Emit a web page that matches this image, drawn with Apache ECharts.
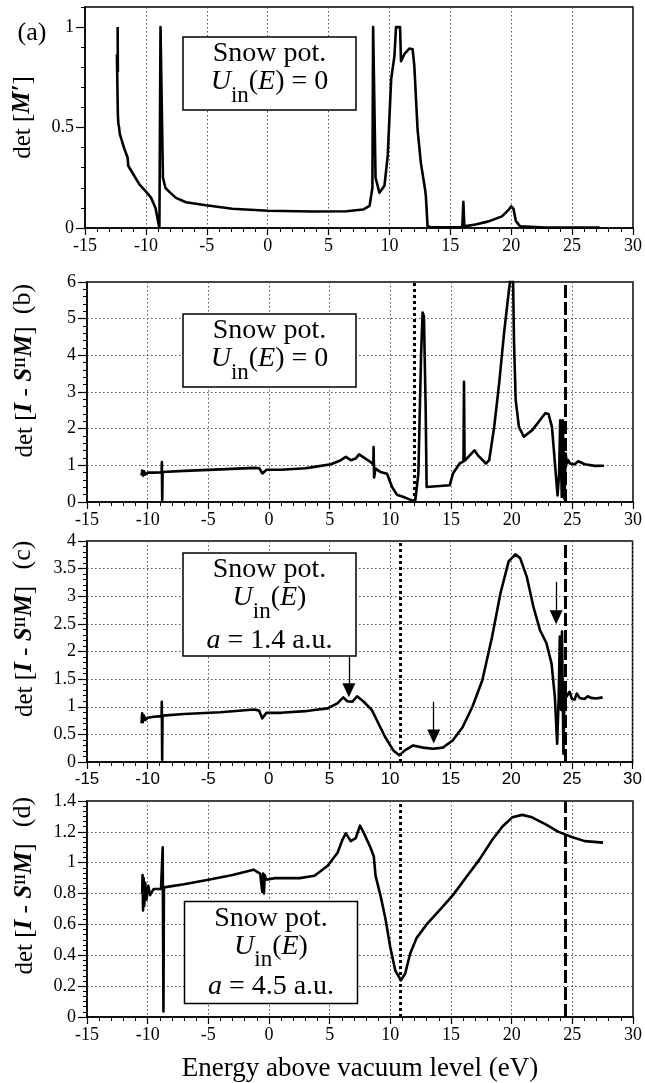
<!DOCTYPE html>
<html><head><meta charset="utf-8">
<script src="https://cdn.jsdelivr.net/npm/echarts@6/dist/echarts.min.js"></script>
<style>html,body{margin:0;padding:0;background:#fff}#c{width:645px;height:1083px}</style>
</head><body><div id="c"></div>
<script>
// ---------- DATA ----------
// Panel (a): det[M'] , Snow pot., U_in(E)=0
const aE = [-12.32,-12.3,-12.38,-12.3,-12.26,-12.2,-12.15,-11.8,-11.5,-11.45,-11.06,-10.52,-9.97,-9.57,-9.21,-9.02,-8.89,-8.8,-8.66,-8.6,-8.4,-8.07,-7.53,-6.71,-5.08,-2.91,0.03,3.75,6.47,7.83,8.37,8.6,8.66,8.8,8.86,9.18,9.59,9.86,10.14,10.41,10.54,10.87,10.95,11.22,11.63,11.9,12.04,12.31,12.58,12.93,12.99,13.13,13.5,15.98,16.05,16.07,16.13,16.15,17.07,18.15,19.24,19.78,20.0,20.19,20.38,20.73,22.77,27.26];
const aV = [1.0,0.78,0.86,0.56,0.52,0.5,0.47,0.40,0.35,0.31,0.27,0.216,0.18,0.15,0.10,0.04,0.0,1.0,1.0,0.25,0.2,0.18,0.15,0.128,0.113,0.096,0.086,0.082,0.083,0.092,0.11,0.2,1.0,1.0,0.25,0.175,0.21,0.36,0.74,0.856,1.0,1.0,0.83,0.865,0.893,0.89,0.81,0.49,0.324,0.19,0.16,0.008,0.003,0.005,0.005,0.13,0.13,0.008,0.017,0.033,0.058,0.09,0.108,0.095,0.035,0.008,0.002,0.002];
// Panel (b): det[I - S^II M], U_in(E)=0
const bE = [-10.5,-10.45,-10.38,-10.3,-10.2,-10.0,-9.5,-8.85,-8.83,-8.8,-8.77,-7,-4,-1.2,-0.8,-0.55,-0.4,-0.2,1,3,3.75,5.11,5.92,6.33,6.74,7.15,7.42,7.83,8.37,8.6,8.62,8.66,8.78,9.18,9.73,10.14,10.54,11.09,11.63,12.04,12.31,12.53,12.66,12.77,12.91,12.99,13.13,14.89,15.16,15.71,16.03,16.07,16.12,16.93,17.2,17.88,18.15,18.56,18.97,19.37,19.78,20.0,20.12,20.19,20.33,20.6,21.0,21.7,22.77,23.04,23.32,23.59,23.78,23.91,24.0,24.13,24.21,24.35,24.45,24.55,24.67,24.8,24.95,25.2,25.49,26.03,26.85,27.6];
const bV = [0.72,0.86,0.72,0.84,0.75,0.8,0.8,0.81,1.09,0.0,0.82,0.85,0.89,0.93,0.92,0.78,0.8,0.88,0.88,0.92,0.957,1.03,1.14,1.23,1.14,1.185,1.30,1.21,1.09,1.02,1.5,0.67,0.91,0.82,0.77,0.41,0.2,0.137,0.064,0.0,0.77,3.97,5.17,5.06,2.6,0.41,0.365,0.456,0.775,1.05,1.11,3.28,1.12,1.41,1.28,1.05,1.14,2.05,3.24,4.6,5.79,6.3,6.0,4.42,2.78,2.05,1.78,1.96,2.42,2.4,2.05,0.957,0.18,0.77,2.23,0.14,2.23,0.09,1.32,1.05,1.14,1.05,1.09,1.03,1.11,1.03,0.985,0.99];
// Panel (c): a = 1.4 a.u.
const cE = [-10.5,-10.45,-10.4,-10.3,-10.2,-10.0,-9.5,-8.85,-8.83,-8.8,-8.77,-7,-4,-1.2,-0.8,-0.55,-0.4,-0.2,1,3,3.75,4.84,5.65,6.14,6.47,6.88,7.28,7.83,8.5,8.91,9.59,10.27,10.76,11.22,11.9,12.72,13.53,14.35,15.16,15.98,16.79,17.61,18.42,19.1,19.78,20.33,20.73,21.28,21.82,22.36,22.9,23.32,23.59,23.78,23.91,24.0,24.1,24.18,24.3,24.4,24.54,24.81,25.0,25.22,25.4,25.63,26.03,26.3,26.58,26.98,27.53];
const cV = [0.7,0.88,0.72,0.84,0.76,0.8,0.82,0.83,1.09,0.04,0.84,0.87,0.9,0.95,0.93,0.79,0.82,0.89,0.89,0.92,0.94,0.97,1.06,1.17,1.1,1.09,1.19,1.09,0.94,0.755,0.453,0.21,0.12,0.21,0.3,0.26,0.24,0.26,0.39,0.63,1.0,1.48,2.27,3.05,3.63,3.76,3.69,3.35,2.81,2.39,2.15,1.78,1.18,0.33,1.18,2.27,0.94,2.36,0.15,1.42,1.18,1.27,1.14,1.13,1.24,1.16,1.14,1.19,1.16,1.15,1.17];
// Panel (d): a = 4.5 a.u.
const dE = [-10.45,-10.42,-10.38,-10.33,-10.28,-10.2,-10.1,-9.95,-9.8,-9.5,-8.9,-8.8,-8.76,-8.7,-8.66,-7,-5,-3,-1.28,-0.73,-0.55,-0.48,-0.42,-0.35,-0.25,0.5,2.53,3.75,4.84,5.65,6.06,6.33,6.74,7.15,7.5,7.83,8.37,8.64,8.78,9.18,9.59,10.0,10.41,10.87,11.22,11.63,12.17,12.99,14.08,15.16,16.25,17.34,18.42,19.24,20.05,20.87,21.68,22.77,23.86,24.95,26.03,27.53];
const dV = [0.8,0.92,0.69,0.9,0.72,0.87,0.76,0.85,0.79,0.83,0.83,0.83,1.1,0.036,0.84,0.86,0.89,0.92,0.955,0.93,0.81,0.93,0.8,0.92,0.89,0.9,0.9,0.916,0.98,1.065,1.15,1.19,1.14,1.16,1.24,1.19,1.097,1.04,0.916,0.79,0.64,0.45,0.30,0.238,0.28,0.41,0.513,0.6,0.694,0.79,0.906,1.02,1.15,1.235,1.294,1.31,1.294,1.25,1.2,1.167,1.14,1.13];
// reference lines (panels b, c, d)
const dottedE = [12.0, 10.8, 10.85];
const dashedE = [24.4, 24.45, 24.45];
// arrows in panel (c)
const arrowE = [6.6, 13.6, 23.7];
const arrowTop = [1.92, 1.09, 3.26];
const arrowHead = [1.30, 0.46, 2.62];
// axes
const xMin = -15, xMax = 30, xStep = 5;
const yMax = [1.1, 6, 4, 1.4];
const yStep = [0.1, 1, 0.5, 0.2];
const aLabelTicks = [0, 0.5, 1];
const panelTags = ['(a)', '(b)', '(c)', '(d)'];
const boxLine3 = ['', '', '1.4 a.u.', '4.5 a.u.'];

// ---------- CHART ----------
const SERIF = 'Liberation Serif';
const SANS = 'Liberation Sans';
const zip = (e, v) => e.map((x, i) => [x, v[i]]);
const grids = [
  {left: 85, right: 8, top: 7, height: 221},
  {left: 85, right: 8, top: 282, height: 220},
  {left: 85, right: 8, top: 541, height: 221},
  {left: 85, right: 8, top: 801, height: 220}
].map(g => Object.assign(g, {show: true, borderColor: '#000', borderWidth: 1.5}));

const gridLine = {show: true, lineStyle: {color: '#555', width: 1, type: [1.5, 2.5]}};
const axisLineS = {show: true, onZero: false, lineStyle: {color: '#000', width: 1.5}};

const xAxes = grids.map((g, i) => ({
  gridIndex: i, type: 'value', min: xMin, max: xMax, interval: xStep,
  axisLine: axisLineS,
  axisTick: {show: true, length: 7, lineStyle: {color: '#000', width: 1.2}},
  minorTick: {show: true, splitNumber: 5, length: 4, lineStyle: {color: '#000', width: 1}},
  axisLabel: {color: '#000', fontFamily: i === 2 ? SANS : SERIF, fontSize: i === 2 ? 17 : 18, margin: 9},
  splitLine: gridLine,
  name: i === 3 ? 'Energy above vacuum level (eV)' : '',
  nameLocation: 'middle', nameGap: 38,
  nameTextStyle: {color: '#000', fontFamily: SERIF, fontSize: 27}
}));

const nameRich = {
  n: {fontFamily: SERIF, fontSize: 25, color: '#000', lineHeight: 34},
  b: {fontFamily: SERIF, fontSize: 25, fontStyle: 'italic', fontWeight: 'bold', color: '#000', lineHeight: 34},
  sup: {fontFamily: SERIF, fontSize: 14, fontWeight: 'bold', color: '#000', lineHeight: 14, verticalAlign: 'top', padding: [6, 0, 0, 0]}
};
const nameISM = '{n|det [}{b|I}{n| - }{b|S}{sup|II}{b|M}{n|]}';
function yAxisCfg(i) {
  const base = {
    gridIndex: i, type: 'value', min: 0, max: yMax[i], interval: yStep[i],
    axisLine: axisLineS,
    axisTick: {show: true, length: 9, lineStyle: {color: '#000', width: 1.2}},
    minorTick: {show: true, splitNumber: i === 3 ? 6 : 5, length: 4, lineStyle: {color: '#000', width: 1}},
    axisLabel: {color: '#000', fontFamily: SERIF, fontSize: 18, margin: 11},
    splitLine: gridLine,
    name: i === 0 ? '{n|det [}{b|M′}{n|]}' : nameISM,
    nameLocation: 'middle', nameRotate: 90, nameGap: 45,
    nameTextStyle: {rich: nameRich}
  };
  if (i === 0) {
    base.minorTick = {show: false};
    base.axisLabel.customValues = aLabelTicks;
    base.axisTick.customValues = aLabelTicks;
    base.splitLine = {show: true, lineStyle: {color: ['#555', 'rgba(0,0,0,0)', 'rgba(0,0,0,0)', 'rgba(0,0,0,0)', 'rgba(0,0,0,0)'], width: 1, type: [1.5, 2.5]}};
  }
  return base;
}
const yAxes = [yAxisCfg(0),
  {gridIndex: 0, type: 'value', min: 0, max: yMax[0], interval: yStep[0], position: 'left',
   axisLine: {show: false, onZero: false}, axisLabel: {show: false}, splitLine: {show: false},
   axisTick: {show: true, length: 4, lineStyle: {color: '#000', width: 1}}},
  yAxisCfg(1), yAxisCfg(2), yAxisCfg(3)];
const yIdx = [0, 2, 3, 4];

const dataSets = [zip(aE, aV), zip(bE, bV), zip(cE, cV), zip(dE, dV)];
const series = dataSets.map((d, i) => {
  const s = {
    type: 'line', xAxisIndex: i, yAxisIndex: yIdx[i], data: d,
    showSymbol: false, symbol: 'none', clip: true, animation: false,
    lineStyle: {color: '#000', width: 2.6, join: 'round'}
  };
  if (i > 0) {
    const ml = [
      {xAxis: dottedE[i - 1], lineStyle: {color: '#000', width: 3, type: [3, 3]}},
      {xAxis: dashedE[i - 1], lineStyle: {color: '#000', width: 3, type: [13, 4]}}
    ];
    if (i === 2) {
      arrowE.forEach((x, k) => {
        ml.push([
          {coord: [x, arrowTop[k]], symbol: 'none', lineStyle: {color: '#000', width: 1.3, type: 'solid'}},
          {coord: [x, arrowHead[k]], symbol: 'triangle', symbolSize: [13, 14]}
        ]);
      });
    }
    s.markLine = {silent: true, animation: false, symbol: ['none', 'none'], label: {show: false},
      itemStyle: {color: '#000'}, data: ml};
  }
  return s;
});

// text boxes
const boxes = [
  {x: 183, y: 37, w: 173, h: 73},
  {x: 183, y: 314, w: 173, h: 73},
  {x: 183, y: 553, w: 173, h: 103},
  {x: 184.5, y: 901.5, w: 173, h: 102}
];
const boxRich = {
  n: {fontFamily: SERIF, fontSize: 28, lineHeight: 28, verticalAlign: 'top', fill: '#000'},
  i: {fontFamily: SERIF, fontSize: 28, lineHeight: 28, fontStyle: 'italic', verticalAlign: 'top', fill: '#000'},
  s: {fontFamily: SERIF, fontSize: 23, lineHeight: 23, verticalAlign: 'top', padding: [16, 0, 0, 0], fill: '#000'}
};
const graphics = [];
boxes.forEach((b, i) => {
  const cx = b.x + b.w / 2;
  graphics.push({type: 'rect', z: 100, shape: {x: b.x, y: b.y, width: b.w, height: b.h},
    style: {fill: '#fff', stroke: '#000', lineWidth: 1.5}});
  graphics.push({type: 'text', z: 101, x: cx, y: b.y + 17,
    style: {legacy: false, text: 'Snow pot.', fontFamily: SERIF, fontSize: 28, fill: '#000', align: 'center', verticalAlign: 'middle'}});
  const uTxt = i < 2 ? '{i|U}{s|in}{n|(}{i|E}{n|) = 0}' : '{i|U}{s|in}{n|(}{i|E}{n|)}';
  graphics.push({type: 'text', z: 101, x: cx, y: b.y + 45 - 14,
    style: {legacy: false, text: uTxt, rich: boxRich, fontFamily: SERIF, fontSize: 28, fill: '#000', align: 'center', verticalAlign: 'top'}});
  if (boxLine3[i]) {
    graphics.push({type: 'text', z: 101, x: cx, y: b.y + (i === 2 ? 88 : 85) - 14,
      style: {legacy: false, text: '{i|a}{n| = ' + boxLine3[i] + '}', rich: boxRich, fontFamily: SERIF, fontSize: 28, fill: '#000', align: 'center', verticalAlign: 'top'}});
  }
});
const tagPos = [[32, 33, 0], [23, 299, 1], [23, 555, 1], [23, 812, 1]];
panelTags.forEach((t, i) => {
  graphics.push({type: 'text', z: 101, x: tagPos[i][0], y: tagPos[i][1], rotation: tagPos[i][2] ? Math.PI / 2 : 0,
    style: {legacy: false, text: t, fontFamily: SERIF, fontSize: 26, fill: '#000', align: 'center', verticalAlign: 'middle'}});
});

const chart = echarts.init(document.getElementById('c'), null, {renderer: 'canvas'});
chart.setOption({
  animation: false,
  backgroundColor: '#fff',
  grid: grids, xAxis: xAxes, yAxis: yAxes, series: series,
  graphic: {elements: graphics}
});
</script></body></html>
